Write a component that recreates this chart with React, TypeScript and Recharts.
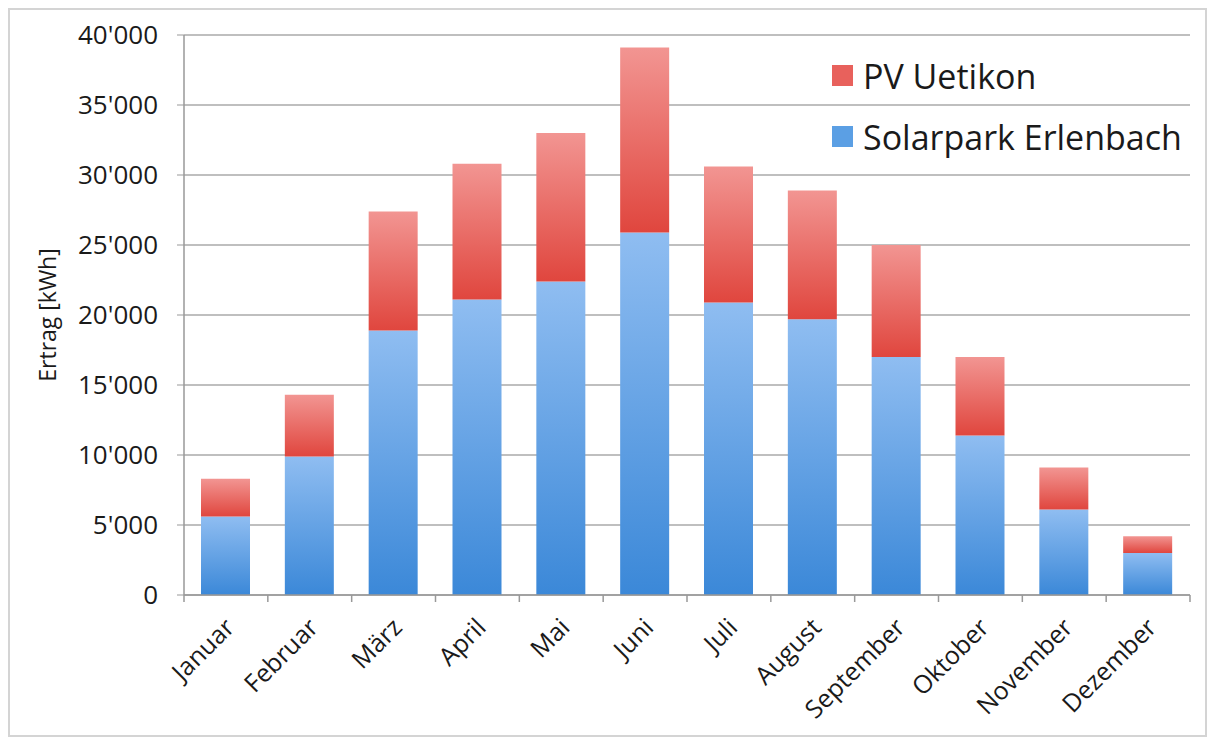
import { Bar, BarChart, CartesianGrid, Legend, XAxis, YAxis } from "recharts";

const months = ["Januar", "Februar", "März", "April", "Mai", "Juni", "Juli", "August", "September", "Oktober", "November", "Dezember"];
const erlenbach = [5600, 9900, 18900, 21100, 22400, 25900, 20900, 19700, 17000, 11400, 6100, 3000];
const uetikon = [2700, 4400, 8500, 9700, 10600, 13200, 9700, 9200, 8000, 5600, 3000, 1200];
const yTicks = [0, 5000, 10000, 15000, 20000, 25000, 30000, 35000, 40000];
const legendOrder = ["PV Uetikon", "Solarpark Erlenbach"];
const swatch: Record<string, string> = { "PV Uetikon": "#e8615c", "Solarpark Erlenbach": "#5b9fe4" };

const font = "'Open Sans', sans-serif";
const fmt = (v: number) => String(v).replace(/\B(?=(\d{3})+(?!\d))/g, "'");

const data = months.map((m, i) => ({ month: m, erlenbach: erlenbach[i], uetikon: uetikon[i] }));

// label rotated -45deg plus small tick marks on the category boundaries
function MonthTick(props: any) {
  const { x, y, payload, index } = props;
  const half = payload.offset || 0;
  const ax = x + 10;
  const ay = y + 34;
  return (
    <g>
      <line x1={x - half} x2={x - half} y1={y} y2={y + 7} stroke="#999" strokeWidth={1.5} />
      {index === months.length - 1 && <line x1={x + half} x2={x + half} y1={y} y2={y + 7} stroke="#999" strokeWidth={1.5} />}
      <text x={ax} y={ay} transform={`rotate(-45 ${ax} ${ay})`} textAnchor="end" fontSize={25} fill="#1a1a1a" fontFamily={font}>
        {payload.value}
      </text>
    </g>
  );
}

function LegendBox(props: any) {
  const items = [...(props.payload || [])].sort((a: any, b: any) => legendOrder.indexOf(a.value) - legendOrder.indexOf(b.value));
  return (
    <div style={{ fontFamily: font }}>
      {items.map((it: any) => (
        <div key={it.value} style={{ display: "flex", alignItems: "center", height: 61, fontSize: 34, color: "#1a1a1a" }}>
          <span style={{ width: 21, height: 21, background: swatch[it.value], marginRight: 10, display: "inline-block" }} />
          {it.value}
        </div>
      ))}
    </div>
  );
}

export default function App() {
  return (
    <div style={{ position: "absolute", left: 0, top: 0, width: 1213, height: 740, background: "#fff" }}>
      <div style={{ position: "absolute", left: 8, top: 8, width: 1195, height: 725, border: "2px solid #d4d4d4" }} />
      <BarChart width={1213} height={740} data={data} margin={{ top: 35, right: 23, left: 34, bottom: 0 }} barSize={49}>
        <defs>
          <linearGradient id="gBlue" x1="0" y1="0" x2="0" y2="1">
            <stop offset="0%" stopColor="#8fbdf1" />
            <stop offset="100%" stopColor="#3b88d8" />
          </linearGradient>
          <linearGradient id="gRed" x1="0" y1="0" x2="0" y2="1">
            <stop offset="0%" stopColor="#f29592" />
            <stop offset="100%" stopColor="#e0463e" />
          </linearGradient>
        </defs>
        <CartesianGrid vertical={false} stroke="#aaaaaa" strokeWidth={1.5} />
        <XAxis
          dataKey="month"
          interval={0}
          height={145}
          tick={<MonthTick />}
          tickLine={false}
          tickSize={0}
          tickMargin={0}
          axisLine={{ stroke: "#999", strokeWidth: 1.5 }}
        />
        <YAxis
          width={150}
          domain={[0, 40000]}
          ticks={yTicks}
          tickFormatter={fmt}
          tickSize={7}
          tickMargin={19}
          tick={{ fontSize: 26, fill: "#1a1a1a", fontFamily: font }}
          tickLine={{ stroke: "#999" }}
          axisLine={{ stroke: "#999", strokeWidth: 1.5 }}
          label={{ value: "Ertrag [kWh]", angle: -90, position: "center", dx: -61, style: { fontSize: 23, fill: "#1a1a1a", fontFamily: font } }}
        />
        <Legend content={<LegendBox />} layout="vertical" verticalAlign="middle" align="center" wrapperStyle={{ left: 832, top: 45, width: 380 }} />
        <Bar dataKey="erlenbach" name="Solarpark Erlenbach" stackId="a" fill="url(#gBlue)" isAnimationActive={false} />
        <Bar dataKey="uetikon" name="PV Uetikon" stackId="a" fill="url(#gRed)" isAnimationActive={false} />
      </BarChart>
    </div>
  );
}
